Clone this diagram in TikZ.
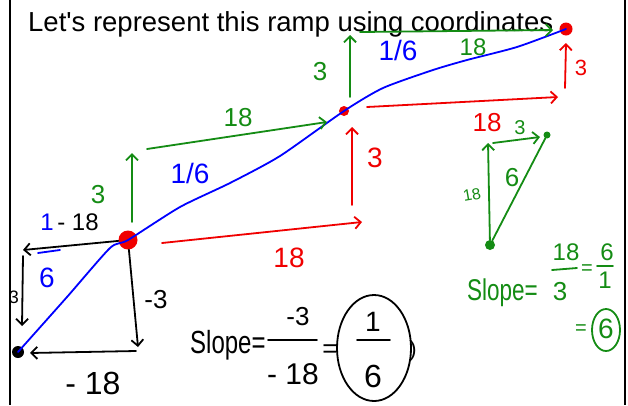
\documentclass[tikz,border=0pt]{standalone}
\usepackage{fontspec}
\setmainfont{Liberation Sans}
\newfontfamily\tfont{Liberation Sans}
\usetikzlibrary{arrows.meta}
\definecolor{pgreen}{RGB}{20,140,20}
\definecolor{pred}{RGB}{240,0,0}
\definecolor{pblue}{RGB}{0,0,255}
\begin{document}
\begin{tikzpicture}[x=1pt,y=-1pt,
  ink/.style={line width=1.8pt, line cap=round, line join=round},
  arr/.style={ink, -{Straight Barb[length=6pt,width=12pt,line width=1.8pt]}},
  fs/.style={font=\fontsize{#1}{#1}\selectfont, inner sep=0pt},
  dot/.style={circle, inner sep=0pt, minimum size=#1},
]
\useasboundingbox[fill=white] (0,0) rectangle (628,405);
% frame lines
\draw[line width=2pt] (10,0) -- (10,405);
\draw[line width=2pt] (625,0) -- (625,405);
% title
\node[anchor=base west, font=\tfont\fontsize{27.5}{30}\selectfont, inner sep=0pt] (title) at (28,31) {Let's represent this ramp using coordinates};

% points
\node[dot=12pt, fill=black] (A) at (18,352) {};
\node[dot=19pt, fill=pred] (B) at (128,240) {};
\node[dot=10pt, fill=pred] (C) at (344,111) {};
\node[dot=13pt, fill=pred] (D) at (566,29) {};

% blue ramp
\draw[ink, pblue] plot[smooth, tension=0.4] coordinates {(A.center) (67,297) (110,248) (B.center) (180,207) (230,183) (280,156) (C.center) (383,88) (433,70) (467,60) (517,47) (D.center)};

% black construction
\coordinate (k1) at (23,250);
\coordinate (k1b) at (23,256);
\coordinate (k2) at (22,326);
\coordinate (k3) at (138,347);
\coordinate (k3b) at (136,351);
\coordinate (k4) at (30,353);
\draw[arr] (B) -- (k1);
\draw[arr] (k1b) -- (k2);
\draw[arr] (B) -- (k3);
\draw[arr] (k3b) -- (k4);
\node[fs=18] (l3a) at (14,297) {3};
\node[fs=24] (lm18a) at (78,222) {- 18};
\node[fs=24, pblue] (l1a) at (47,222) {1};
\coordinate (fb1) at (38,253);
\coordinate (fb2) at (60,250);
\draw[ink, pblue] (fb1) -- (fb2);
\node[fs=28, pblue] (l6a) at (47,278) {6};
\node[fs=26] (lm3) at (156,300) {-3};
\node[fs=32] (lm18b) at (93,383) {- 18};

% green steps
\coordinate (g1) at (132,222);
\coordinate (g2) at (132,153);
\coordinate (g3) at (147,149);
\coordinate (g4) at (327,122);
\draw[arr, pgreen] (g1) -- (g2);
\draw[arr, pgreen] (g3) -- (g4);
\node[fs=26, pgreen] (lg3a) at (98,195) {3};
\node[fs=26, pgreen] (lg18a) at (238,118) {18};
\node[fs=28, pblue] (lb16a) at (190,173) {1/6};
\coordinate (g5) at (350,97);
\coordinate (g6) at (350,35);
\coordinate (g7) at (360,32);
\coordinate (g8) at (553,30);
\draw[arr, pgreen] (g5) -- (g6);
\draw[arr, pgreen] (g7) -- (g8);
\node[fs=26, pgreen] (lg3b) at (320,72) {3};
\node[fs=24, pgreen] (lg18b) at (473,47) {18};
\node[fs=28, pblue] (lb16b) at (398,50) {1/6};

% red steps
\coordinate (r1) at (162,243);
\coordinate (r2) at (362,222);
\coordinate (r3) at (352,205);
\coordinate (r4) at (352,127);
\coordinate (r5) at (367,107);
\coordinate (r6) at (558,97);
\coordinate (r7) at (565,88);
\coordinate (r8) at (566,43);
\draw[arr, pred] (r1) -- (r2);
\draw[arr, pred] (r3) -- (r4);
\draw[arr, pred] (r5) -- (r6);
\draw[arr, pred] (r7) -- (r8);
\node[fs=28, pred] (lr18a) at (289,258) {18};
\node[fs=28, pred] (lr3a) at (375,158) {3};
\node[fs=22, pred] (lr3b) at (581,68) {3};
\node[fs=26, pred] (lr18b) at (487,123) {18};

% green triangle
\node[dot=10pt, fill=pgreen] (E) at (490,245) {};
\node[dot=7pt, fill=pgreen] (F) at (547,135) {};
\coordinate (t1) at (488,143);
\coordinate (t2) at (493,143);
\coordinate (t3) at (540,137);
\draw[arr, pgreen] (E) -- (t1);
\draw[arr, pgreen] (t2) -- (t3);
\draw[ink, pgreen] (E) -- (F);
\node[fs=20, pgreen] (lt3) at (520,128) {3};
\node[fs=16, pgreen, rotate=10] (lt18) at (472,195) {18};
\node[fs=26, pgreen] (lt6) at (512,178) {6};

% green slope
\node[fs=30, pgreen, anchor=west] (gslope) at (467,293) {\scalebox{0.75}[1]{Slope=}};
\node[fs=24, pgreen] (gn18) at (566,252) {18};
\coordinate (gb1) at (552,270);
\coordinate (gb2) at (577,268);
\draw[ink, pgreen] (gb1) -- (gb2);
\node[fs=26, pgreen] (gd3) at (560,292) {3};
\node[fs=20, pgreen] (geq1) at (587,270) {=};
\node[fs=24, pgreen] (gn6) at (607,252) {6};
\coordinate (gb3) at (597,266);
\coordinate (gb4) at (613,266);
\draw[ink, pgreen] (gb3) -- (gb4);
\node[fs=24, pgreen] (gd1) at (605,280) {1};
\node[fs=20, pgreen] (geq2) at (581,330) {=};
\node[fs=28, pgreen] (g6c) at (606,329) {6};
\draw[ink, pgreen] (606,330) ellipse [x radius=14, y radius=21];

% black slope
\node[fs=32, anchor=west] (bslope) at (190,345) {\scalebox{0.75}[1]{Slope=}};
\node[fs=26] (bn3) at (298,317) {-3};
\coordinate (bb1) at (268,340);
\coordinate (bb2) at (317,340);
\draw[ink] (bb1) -- (bb2);
\node[fs=30] (bd18) at (293,374) {- 18};
\node[fs=26] (beq) at (330,351) {=};
\draw[ink] (374,348) ellipse [x radius=37, y radius=53];
\node[fs=28] (bn1) at (373,322) {1};
\coordinate (bb3) at (357,340);
\coordinate (bb4) at (390,340);
\draw[ink] (bb3) -- (bb4);
\node[fs=32] (bd6) at (373,376) {6};
\node[fs=22] (bpar) at (413,351) {)};
\end{tikzpicture}
\end{document}
